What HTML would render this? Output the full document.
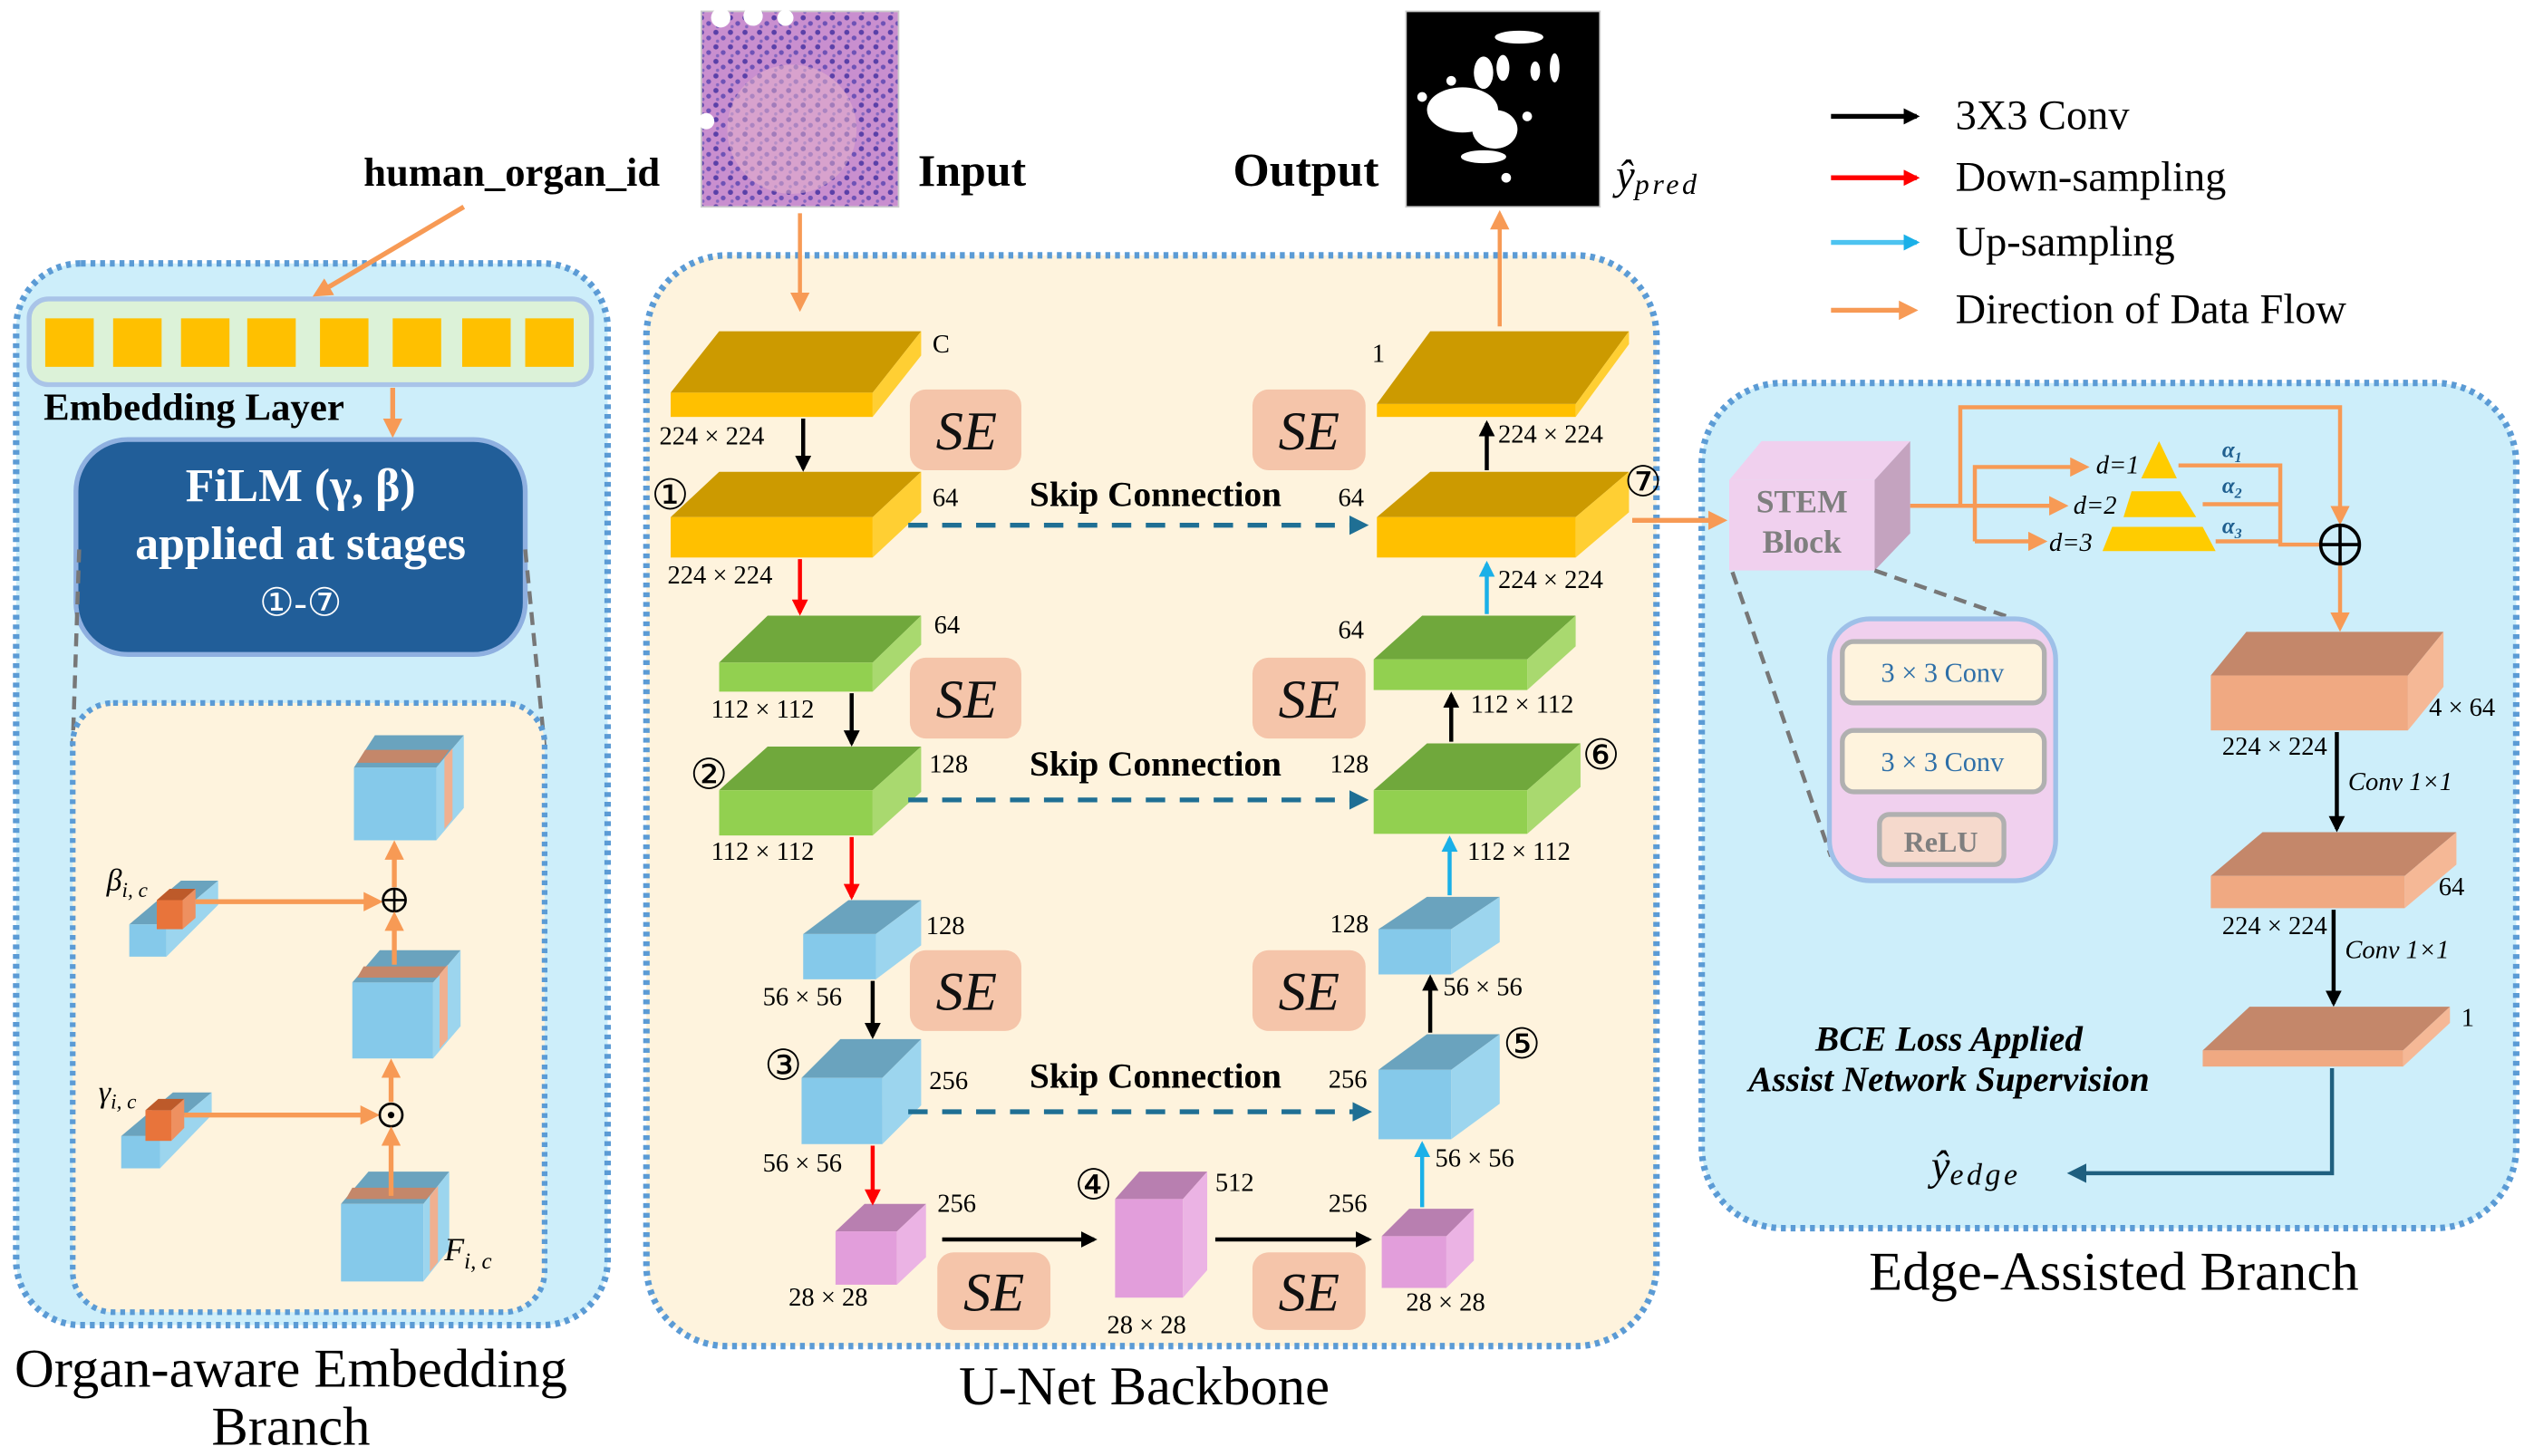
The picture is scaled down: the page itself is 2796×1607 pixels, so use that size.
<!DOCTYPE html>
<html><head><meta charset="utf-8"><style>
html,body{margin:0;padding:0;background:#fff;}
svg{display:block;}
text{font-family:"Liberation Serif",serif;}
.b{font-weight:bold;}
.se{font-style:italic;font-size:34px;fill:#111;}
.sm{font-size:16px;}
</style></head><body>
<svg width="2796" height="1607" viewBox="0 0 1568 901" preserveAspectRatio="none" xmlns="http://www.w3.org/2000/svg">
<defs>
<marker id="ak" markerWidth="10" markerHeight="10" refX="8" refY="5" orient="auto" markerUnits="userSpaceOnUse"><path d="M0,0 L10,5 L0,10 Z" fill="#000"/></marker>
<marker id="ar" markerWidth="10" markerHeight="10" refX="8" refY="5" orient="auto" markerUnits="userSpaceOnUse"><path d="M0,0 L10,5 L0,10 Z" fill="#f00"/></marker>
<marker id="ac" markerWidth="10" markerHeight="10" refX="8" refY="5" orient="auto" markerUnits="userSpaceOnUse"><path d="M0,0 L10,5 L0,10 Z" fill="#1ab0e8"/></marker>
<marker id="ao" markerWidth="12" markerHeight="12" refX="9" refY="6" orient="auto" markerUnits="userSpaceOnUse"><path d="M0,0 L12,6 L0,12 Z" fill="#f79a55"/></marker>
<marker id="ad" markerWidth="12" markerHeight="12" refX="9" refY="6" orient="auto" markerUnits="userSpaceOnUse"><path d="M0,0 L12,6 L0,12 Z" fill="#1f6f94"/></marker>
<marker id="ae" markerWidth="12" markerHeight="12" refX="9" refY="6" orient="auto" markerUnits="userSpaceOnUse"><path d="M0,0 L12,6 L0,12 Z" fill="#1f5f7f"/></marker>
<pattern id="histo" width="9" height="9" patternUnits="userSpaceOnUse">
<rect width="9" height="9" fill="#c98fcf"/><circle cx="2" cy="2" r="1.6" fill="#5a40a8"/><circle cx="6.5" cy="5.5" r="1.5" fill="#6e52b6"/><circle cx="3" cy="7.5" r="1" fill="#8466c0"/></pattern>
</defs>

<!-- Left panel -->
<rect x="10" y="163" width="366" height="657" rx="40" fill="#cdeefa" stroke="#5b9bd5" stroke-width="4" stroke-dasharray="3,3"/>
<rect x="18" y="185" width="348" height="53" rx="12" fill="#dcf2d8" stroke="#a9c4e8" stroke-width="3"/>
<g fill="#ffc000">
<rect x="28" y="197" width="30" height="30"/><rect x="70" y="197" width="30" height="30"/><rect x="112" y="197" width="30" height="30"/><rect x="153" y="197" width="30" height="30"/><rect x="198" y="197" width="30" height="30"/><rect x="243" y="197" width="30" height="30"/><rect x="286" y="197" width="30" height="30"/><rect x="325" y="197" width="30" height="30"/></g>
<text x="27" y="260" class="b" font-size="24">Embedding Layer</text>
<text x="225" y="115" class="b" font-size="25">human_organ_id</text>
<line x1="287" y1="128" x2="196" y2="182" stroke="#f79a55" stroke-width="3" marker-end="url(#ao)"/>
<line x1="243" y1="240" x2="243" y2="268" stroke="#f79a55" stroke-width="3" marker-end="url(#ao)"/>
<rect x="47" y="272" width="278" height="133" rx="32" fill="#215e99" stroke="#8fb0e0" stroke-width="3"/>
<text x="186" y="310" text-anchor="middle" class="b" font-size="29" fill="#fff">FiLM (γ,  β)</text>
<text x="186" y="346" text-anchor="middle" class="b" font-size="29" fill="#fff">applied at stages</text>
<text x="186" y="381" text-anchor="middle" font-size="24" fill="#fff">①-⑦</text>
<line x1="49" y1="340" x2="45" y2="462" stroke="#777" stroke-width="2.5" stroke-dasharray="8,5"/>
<line x1="325" y1="340" x2="337" y2="462" stroke="#777" stroke-width="2.5" stroke-dasharray="8,5"/>
<rect x="45" y="435" width="292" height="377" rx="25" fill="#fef3dd" stroke="#5b9bd5" stroke-width="3.5" stroke-dasharray="3,3"/>
<g>
<polygon points="219,475 232,455 287,455 270,475" fill="#6aa3be"/><polygon points="226,464 278,464 272,472 221,472" fill="#c4876a"/>
<rect x="219" y="475" width="51" height="45" fill="#85c9ea"/>
<polygon points="270,475 287,455 287,500 270,520" fill="#9cd5ee"/><polygon points="275,469 280,463 280,507 275,513" fill="#f0b090"/>
</g>
<g>
<polygon points="218,608 235,588 285,588 268,608" fill="#6aa3be"/><polygon points="225,598 277,598 271,605 221,605" fill="#c4876a"/>
<rect x="218" y="608" width="50" height="47" fill="#85c9ea"/>
<polygon points="268,608 285,588 285,635 268,655" fill="#9cd5ee"/><polygon points="272,603 277,597 277,643 272,649" fill="#f0b090"/>
</g>
<g>
<polygon points="211,745 228,725 278,725 262,745" fill="#6aa3be"/><polygon points="218,735 270,735 264,742 214,742" fill="#c4876a"/>
<rect x="211" y="745" width="51" height="48" fill="#85c9ea"/>
<polygon points="262,745 278,725 278,773 262,793" fill="#9cd5ee"/><polygon points="266,740 271,734 271,781 266,787" fill="#f0b090"/>
</g>
<text x="275" y="780" font-style="italic" font-size="20">F<tspan font-size="14" dy="5">i, c</tspan></text>
<polygon points="80,572 112,545 135,545 103,572" fill="#6aa3be"/>
<rect x="80" y="572" width="23" height="20" fill="#85c9ea"/>
<polygon points="103,572 135,545 135,560 103,592" fill="#9cd5ee"/>
<polygon points="97,557 105,550 121,550 113,557" fill="#bd5a2a"/><rect x="97" y="557" width="16" height="18" fill="#e8743b"/><polygon points="113,557 121,550 121,568 113,575" fill="#ee9060"/>
<text x="66" y="551" font-style="italic" font-size="19">β<tspan font-size="13" dy="4">i, c</tspan></text>
<line x1="121" y1="558" x2="234" y2="558" stroke="#f79a55" stroke-width="3" marker-end="url(#ao)"/>
<polygon points="75,703 107,676 131,676 99,703" fill="#6aa3be"/>
<rect x="75" y="703" width="24" height="20" fill="#85c9ea"/>
<polygon points="99,703 131,676 131,690 99,723" fill="#9cd5ee"/>
<polygon points="90,687 98,680 114,680 106,687" fill="#bd5a2a"/><rect x="90" y="687" width="16" height="19" fill="#e8743b"/><polygon points="106,687 114,680 114,698 106,706" fill="#ee9060"/>
<text x="61" y="682" font-style="italic" font-size="19">γ<tspan font-size="13" dy="4">i, c</tspan></text>
<line x1="114" y1="690" x2="232" y2="690" stroke="#f79a55" stroke-width="3" marker-end="url(#ao)"/>
<circle cx="244" cy="557" r="7" fill="none" stroke="#000" stroke-width="1.5"/><line x1="237" y1="557" x2="251" y2="557" stroke="#000" stroke-width="1.5"/><line x1="244" y1="550" x2="244" y2="564" stroke="#000" stroke-width="1.5"/>
<circle cx="242" cy="690" r="7" fill="none" stroke="#000" stroke-width="1.5"/><circle cx="242" cy="690" r="2" fill="#000"/>
<line x1="242" y1="740" x2="242" y2="700" stroke="#f79a55" stroke-width="3" marker-end="url(#ao)"/>
<line x1="242" y1="682" x2="242" y2="658" stroke="#f79a55" stroke-width="3" marker-end="url(#ao)"/>
<line x1="244" y1="597" x2="244" y2="567" stroke="#f79a55" stroke-width="3" marker-end="url(#ao)"/>
<line x1="244" y1="549" x2="244" y2="523" stroke="#f79a55" stroke-width="3" marker-end="url(#ao)"/>
<text x="180" y="858" text-anchor="middle" font-size="34">Organ-aware Embedding</text>
<text x="180" y="894" text-anchor="middle" font-size="34">Branch</text>

<!-- Middle panel -->
<rect x="400" y="158" width="625" height="675" rx="50" fill="#fef3dd" stroke="#5b9bd5" stroke-width="4" stroke-dasharray="3,3"/>
<rect x="434" y="7" width="122" height="121" fill="url(#histo)" stroke="#ccc"/>
<ellipse cx="490" cy="80" rx="40" ry="40" fill="#e8b6cc" opacity="0.5"/>
<circle cx="446" cy="11" r="6" fill="#fff"/><circle cx="466" cy="10" r="6" fill="#fff"/><circle cx="486" cy="11" r="5" fill="#fff"/><circle cx="437" cy="75" r="5" fill="#fff"/>
<text x="568" y="115" class="b" font-size="28">Input</text>
<rect x="870" y="7" width="120" height="121" fill="#000" stroke="#ccc"/>
<g fill="#fff"><ellipse cx="940" cy="23" rx="15" ry="4"/><ellipse cx="905" cy="68" rx="22" ry="14"/><ellipse cx="925" cy="80" rx="14" ry="12"/><ellipse cx="918" cy="45" rx="6" ry="10"/><ellipse cx="930" cy="42" rx="4" ry="8"/><ellipse cx="950" cy="44" rx="3" ry="6"/><ellipse cx="962" cy="42" rx="3" ry="9"/><ellipse cx="918" cy="97" rx="14" ry="4"/><circle cx="945" cy="72" r="3"/><circle cx="932" cy="110" r="3"/><circle cx="880" cy="60" r="3"/><circle cx="898" cy="50" r="3"/></g>
<text x="763" y="115" class="b" font-size="29">Output</text>
<text x="1000" y="117" font-style="italic" font-size="26">ŷ<tspan font-size="18" dy="3" letter-spacing="2">pred</tspan></text>
<line x1="495" y1="132" x2="495" y2="190" stroke="#f79a55" stroke-width="2.5" marker-end="url(#ao)"/>
<line x1="928" y1="202" x2="928" y2="133" stroke="#f79a55" stroke-width="2.5" marker-end="url(#ao)"/>

<g><polygon points="415,243 445,205 570,205 540,243" fill="#cc9a00"/><rect x="415" y="243" width="125" height="15" fill="#ffc000"/><polygon points="540,243 570,205 570,220 540,258" fill="#ffcf33"/></g>
<g><polygon points="415,320 445,292 570,292 540,320" fill="#cc9a00"/><rect x="415" y="320" width="125" height="25" fill="#ffc000"/><polygon points="540,320 570,292 570,317 540,345" fill="#ffcf33"/></g>
<g><polygon points="445,410 475,381 570,381 540,410" fill="#70a83c"/><rect x="445" y="410" width="95" height="18" fill="#92d050"/><polygon points="540,410 570,381 570,399 540,428" fill="#a9d96f"/></g>
<g><polygon points="445,489 475,462 570,462 540,489" fill="#70a83c"/><rect x="445" y="489" width="95" height="28" fill="#92d050"/><polygon points="540,489 570,462 570,490 540,517" fill="#a9d96f"/></g>
<g><polygon points="497,578 525,557 570,557 542,578" fill="#6aa3be"/><rect x="497" y="578" width="45" height="28" fill="#85c9ea"/><polygon points="542,578 570,557 570,585 542,606" fill="#9cd5ee"/></g>
<g><polygon points="496,667 520,643 570,643 546,667" fill="#6aa3be"/><rect x="496" y="667" width="50" height="41" fill="#85c9ea"/><polygon points="546,667 570,643 570,684 546,708" fill="#9cd5ee"/></g>
<g><polygon points="517,762 535,745 573,745 555,762" fill="#b87fb0"/><rect x="517" y="762" width="38" height="33" fill="#e29edb"/><polygon points="555,762 573,745 573,778 555,795" fill="#ebb3e4"/></g>
<g><polygon points="690,742 705,725 747,725 732,742" fill="#b87fb0"/><rect x="690" y="742" width="42" height="61" fill="#e29edb"/><polygon points="732,742 747,725 747,786 732,803" fill="#ebb3e4"/></g>
<g><polygon points="855,765 872,748 912,748 895,765" fill="#b87fb0"/><rect x="855" y="765" width="40" height="32" fill="#e29edb"/><polygon points="895,765 912,748 912,780 895,797" fill="#ebb3e4"/></g>
<g><polygon points="853,662 883,640 928,640 898,662" fill="#6aa3be"/><rect x="853" y="662" width="45" height="43" fill="#85c9ea"/><polygon points="898,662 928,640 928,683 898,705" fill="#9cd5ee"/></g>
<g><polygon points="853,575 883,555 928,555 898,575" fill="#6aa3be"/><rect x="853" y="575" width="45" height="28" fill="#85c9ea"/><polygon points="898,575 928,555 928,583 898,603" fill="#9cd5ee"/></g>
<g><polygon points="850,489 883,460 978,460 945,489" fill="#70a83c"/><rect x="850" y="489" width="95" height="27" fill="#92d050"/><polygon points="945,489 978,460 978,487 945,516" fill="#a9d96f"/></g>
<g><polygon points="850,408 880,381 975,381 945,408" fill="#70a83c"/><rect x="850" y="408" width="95" height="19" fill="#92d050"/><polygon points="945,408 975,381 975,400 945,427" fill="#a9d96f"/></g>
<g><polygon points="852,320 885,292 1008,292 975,320" fill="#cc9a00"/><rect x="852" y="320" width="123" height="25" fill="#ffc000"/><polygon points="975,320 1008,292 1008,317 975,345" fill="#ffcf33"/></g>
<g><polygon points="852,250 885,205 1008,205 975,250" fill="#cc9a00"/><rect x="852" y="250" width="123" height="8" fill="#ffc000"/><polygon points="975,250 1008,205 1008,213 975,258" fill="#ffcf33"/></g>

<g stroke-width="2.5">
<line x1="497" y1="259" x2="497" y2="290" stroke="#000" marker-end="url(#ak)"/>
<line x1="495" y1="346" x2="495" y2="379" stroke="#f00" marker-end="url(#ar)"/>
<line x1="527" y1="429" x2="527" y2="460" stroke="#000" marker-end="url(#ak)"/>
<line x1="527" y1="518" x2="527" y2="555" stroke="#f00" marker-end="url(#ar)"/>
<line x1="540" y1="607" x2="540" y2="641" stroke="#000" marker-end="url(#ak)"/>
<line x1="540" y1="709" x2="540" y2="744" stroke="#f00" marker-end="url(#ar)"/>
<line x1="583" y1="767" x2="677" y2="767" stroke="#000" marker-end="url(#ak)"/>
<line x1="752" y1="767" x2="847" y2="767" stroke="#000" marker-end="url(#ak)"/>
<line x1="880" y1="747" x2="880" y2="708" stroke="#1ab0e8" marker-end="url(#ac)"/>
<line x1="885" y1="639" x2="885" y2="605" stroke="#000" marker-end="url(#ak)"/>
<line x1="897" y1="554" x2="897" y2="519" stroke="#1ab0e8" marker-end="url(#ac)"/>
<line x1="898" y1="459" x2="898" y2="430" stroke="#000" marker-end="url(#ak)"/>
<line x1="920" y1="380" x2="920" y2="349" stroke="#1ab0e8" marker-end="url(#ac)"/>
<line x1="920" y1="291" x2="920" y2="262" stroke="#000" marker-end="url(#ak)"/>
</g>
<g stroke="#1f6f94" stroke-width="3" stroke-dasharray="12,9" fill="none">
<line x1="562" y1="325" x2="844" y2="325" marker-end="url(#ad)"/>
<line x1="562" y1="495" x2="844" y2="495" marker-end="url(#ad)"/>
<line x1="562" y1="688" x2="846" y2="688" marker-end="url(#ad)"/>
</g>
<g class="b" font-size="22" text-anchor="middle">
<text x="715" y="313">Skip Connection</text><text x="715" y="480">Skip Connection</text><text x="715" y="673">Skip Connection</text></g>
<g fill="#f5c5aa">
<rect x="563" y="241" width="69" height="50" rx="10"/><rect x="563" y="407" width="69" height="50" rx="10"/><rect x="563" y="588" width="69" height="50" rx="10"/><rect x="580" y="775" width="70" height="48" rx="10"/>
<rect x="775" y="241" width="70" height="50" rx="10"/><rect x="775" y="407" width="70" height="50" rx="10"/><rect x="775" y="588" width="70" height="50" rx="10"/><rect x="775" y="775" width="70" height="48" rx="10"/></g>
<g class="se" text-anchor="middle">
<text x="598" y="278">SE</text><text x="598" y="444">SE</text><text x="598" y="625">SE</text><text x="615" y="811">SE</text>
<text x="810" y="278">SE</text><text x="810" y="444">SE</text><text x="810" y="625">SE</text><text x="810" y="811">SE</text></g>
<g class="sm">
<text x="577" y="218">C</text><text x="408" y="275">224 × 224</text>
<text x="577" y="313">64</text><text x="413" y="361">224 × 224</text>
<text x="578" y="392">64</text><text x="440" y="444">112 × 112</text>
<text x="575" y="478">128</text><text x="440" y="532">112 × 112</text>
<text x="573" y="578">128</text><text x="472" y="622">56 × 56</text>
<text x="575" y="674">256</text><text x="472" y="725">56 × 56</text>
<text x="580" y="750">256</text><text x="488" y="808">28 × 28</text>
<text x="752" y="737">512</text><text x="685" y="825">28 × 28</text>
<text x="822" y="750">256</text><text x="870" y="811">28 × 28</text>
<text x="822" y="673">256</text><text x="888" y="722">56 × 56</text>
<text x="823" y="577">128</text><text x="893" y="616">56 × 56</text>
<text x="823" y="478">128</text><text x="908" y="532">112 × 112</text>
<text x="828" y="395">64</text><text x="910" y="441">112 × 112</text>
<text x="828" y="313">64</text><text x="927" y="364">224 × 224</text>
<text x="849" y="224">1</text><text x="927" y="274">224 × 224</text>
</g>
<g font-size="26">
<text x="403" y="315">①</text><text x="427" y="488">②</text><text x="473" y="668">③</text><text x="665" y="742">④</text><text x="930" y="655">⑤</text><text x="979" y="476">⑥</text><text x="1005" y="307">⑦</text></g>
<text x="708" y="869" text-anchor="middle" font-size="34">U-Net Backbone</text>

<line x1="1133" y1="72" x2="1186" y2="72" stroke="#000" stroke-width="3" marker-end="url(#ak)"/>
<line x1="1133" y1="110" x2="1186" y2="110" stroke="#f00" stroke-width="3" marker-end="url(#ar)"/>
<line x1="1133" y1="150" x2="1186" y2="150" stroke="#4dc3f0" stroke-width="3" marker-end="url(#ac)"/>
<line x1="1133" y1="192" x2="1184" y2="192" stroke="#f79a55" stroke-width="3" marker-end="url(#ao)"/>
<g font-size="26"><text x="1210" y="80">3X3 Conv</text><text x="1210" y="118">Down-sampling</text><text x="1210" y="158">Up-sampling</text><text x="1210" y="200">Direction of Data Flow</text></g>

<!-- Right panel -->
<rect x="1053" y="237" width="504" height="523" rx="50" fill="#cdeefa" stroke="#5b9bd5" stroke-width="4" stroke-dasharray="3,3"/>
<line x1="1010" y1="322" x2="1066" y2="322" stroke="#f79a55" stroke-width="3" marker-end="url(#ao)"/>
<polygon points="1070,297 1090,273 1182,273 1160,297" fill="#f0d0ee"/>
<rect x="1070" y="297" width="90" height="56" fill="#f0d0ee"/>
<polygon points="1160,297 1182,273 1182,330 1160,353" fill="#c4a3bf"/>
<text x="1115" y="317" text-anchor="middle" class="b" font-size="20" fill="#7f7f7f">STEM</text>
<text x="1115" y="342" text-anchor="middle" class="b" font-size="20" fill="#7f7f7f">Block</text>
<g stroke="#f79a55" stroke-width="2.5" fill="none">
<polyline points="1182,313 1213,313 1213,252 1448,252 1448,322" marker-end="url(#ao)"/>
<line x1="1213" y1="313" x2="1277" y2="313" marker-end="url(#ao)"/>
<polyline points="1222,335 1222,289 1290,289" marker-end="url(#ao)"/>
<line x1="1222" y1="335" x2="1264" y2="335" marker-end="url(#ao)"/>
<polyline points="1348,288 1411,288 1411,337 1436,337"/>
<line x1="1363" y1="312" x2="1411" y2="312"/>
<line x1="1371" y1="335" x2="1411" y2="335"/>
<line x1="1448" y1="350" x2="1448" y2="388" marker-end="url(#ao)"/>
</g>
<g font-style="italic" font-size="16"><text x="1297" y="293">d=1</text><text x="1283" y="318">d=2</text><text x="1268" y="341">d=3</text></g>
<g font-style="italic" font-size="14" fill="#1f5f8f" class="b"><text x="1375" y="283">α<tspan font-size="9" dy="3">1</tspan></text><text x="1375" y="305">α<tspan font-size="9" dy="3">2</tspan></text><text x="1375" y="330">α<tspan font-size="9" dy="3">3</tspan></text></g>
<g fill="#ffcc00"><polygon points="1325,296 1336,273 1347,296"/><polygon points="1319,304 1349,304 1359,320 1314,320"/><polygon points="1307,326 1363,326 1371,341 1301,341"/></g>
<circle cx="1448" cy="337" r="12" fill="none" stroke="#000" stroke-width="2"/><line x1="1436" y1="337" x2="1460" y2="337" stroke="#000" stroke-width="2"/><line x1="1448" y1="325" x2="1448" y2="349" stroke="#000" stroke-width="2"/>
<g><polygon points="1368,418 1390,391 1512,391 1490,418" fill="#c4876a"/><rect x="1368" y="418" width="122" height="34" fill="#f0a982"/><polygon points="1490,418 1512,391 1512,425 1490,452" fill="#f5b896"/></g>
<g><polygon points="1368,542 1400,515 1520,515 1488,542" fill="#c4876a"/><rect x="1368" y="542" width="120" height="20" fill="#f0a982"/><polygon points="1488,542 1520,515 1520,535 1488,562" fill="#f5b896"/></g>
<g><polygon points="1363,650 1392,623 1516,623 1487,650" fill="#c4876a"/><rect x="1363" y="650" width="124" height="10" fill="#f0a982"/><polygon points="1487,650 1516,623 1516,633 1487,660" fill="#f5b896"/></g>
<line x1="1446" y1="453" x2="1446" y2="513" stroke="#000" stroke-width="2.5" marker-end="url(#ak)"/>
<line x1="1444" y1="563" x2="1444" y2="621" stroke="#000" stroke-width="2.5" marker-end="url(#ak)"/>
<g class="sm"><text x="1503" y="443">4 × 64</text><text x="1375" y="467">224 × 224</text><text x="1509" y="554">64</text><text x="1375" y="578">224 × 224</text><text x="1523" y="635">1</text></g>
<g font-style="italic" font-size="16"><text x="1453" y="489">Conv 1×1</text><text x="1451" y="593">Conv 1×1</text></g>
<polyline points="1443,661 1443,726 1282,726" fill="none" stroke="#1f5f7f" stroke-width="2.5" marker-end="url(#ae)"/>
<text x="1195" y="730" font-style="italic" font-size="26">ŷ<tspan font-size="19" dy="3" letter-spacing="2">edge</tspan></text>
<g font-style="italic" class="b" font-size="22" text-anchor="middle"><text x="1206" y="650">BCE Loss Applied</text><text x="1206" y="675">Assist Network Supervision</text></g>
<line x1="1072" y1="354" x2="1133" y2="530" stroke="#777" stroke-width="2.5" stroke-dasharray="8,5"/>
<line x1="1160" y1="353" x2="1252" y2="385" stroke="#777" stroke-width="2.5" stroke-dasharray="8,5"/>
<rect x="1132" y="383" width="140" height="162" rx="25" fill="#f0d0ee" stroke="#9ec0e8" stroke-width="3"/>
<rect x="1140" y="397" width="125" height="38" rx="7" fill="#fef3dd" stroke="#b0b0b0" stroke-width="3"/>
<rect x="1140" y="452" width="125" height="38" rx="7" fill="#fef3dd" stroke="#b0b0b0" stroke-width="3"/>
<rect x="1163" y="504" width="77" height="31" rx="6" fill="#f5d9cc" stroke="#b0b0b0" stroke-width="3"/>
<g text-anchor="middle" font-size="17" fill="#2e6fa8"><text x="1202" y="422">3 × 3 Conv</text><text x="1202" y="477">3 × 3 Conv</text></g>
<text x="1201" y="527" text-anchor="middle" class="b" font-size="18" fill="#7f7f7f">ReLU</text>
<text x="1308" y="798" text-anchor="middle" font-size="34">Edge-Assisted Branch</text>
</svg>
</body></html>
